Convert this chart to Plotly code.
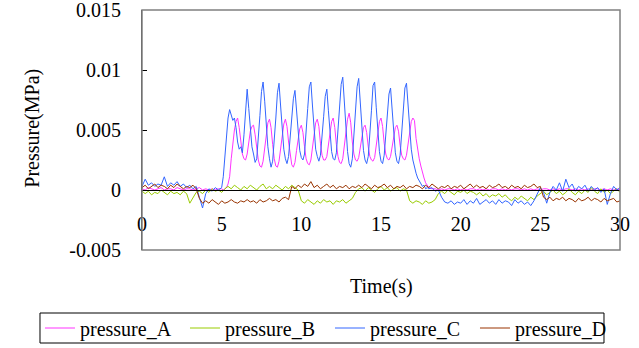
import numpy as np
import plotly.graph_objects as go

# ---------------- data (pressure values in kPa, converted to MPa below) ----------------
# sample times for A and C (coarse before/after the pulsation, fine during it)
t_ac = np.round(np.concatenate([np.linspace(0.0, 4.8, 25),
                                np.linspace(5.0, 17.9, 130),
                                np.linspace(18.0, 30.0, 61)]), 2)
# sample times for B and D
t_bd = np.round(np.linspace(0.0, 30.0, 151), 2)

pressure_A_kpa = [
    # 0.0 - 4.8 (step 0.2)
    0.1, 0.0, 0.2, 0.1, 0.0, 0.1, 0.2, 0.0, 0.1, 0.1,
    0.0, 0.2, 0.1, 0.0, 0.1, 0.1, 0.0, 0.1, 0.2, 0.0,
    0.1, 0.0, 0.1, 0.0, 0.1,
    # 5.0 - 17.9 (step 0.1)
    0.1, 0.0, 0.1, 0.2, 0.5, 1.1, 2.6, 4.0, 5.0, 5.7,
    6.0, 5.2, 3.8, 3.0, 2.6, 2.5, 3.0, 4.0, 4.9, 5.3,
    5.4, 4.6, 3.4, 2.5, 2.0, 1.9, 2.4, 3.6, 4.8, 5.6,
    5.9, 5.2, 3.8, 2.6, 2.0, 1.9, 2.4, 3.5, 4.7, 5.5,
    5.9, 5.3, 4.0, 2.8, 2.1, 1.9, 2.3, 3.3, 4.4, 5.1,
    5.4, 4.8, 3.6, 2.6, 2.2, 2.1, 2.5, 3.6, 4.8, 5.6,
    5.9, 5.3, 3.9, 2.9, 2.5, 2.5, 2.8, 3.7, 4.9, 5.7,
    6.0, 5.2, 3.8, 2.8, 2.3, 2.2, 2.6, 3.8, 5.0, 5.9,
    6.4, 5.6, 4.0, 3.0, 2.5, 2.4, 2.7, 3.6, 4.6, 5.2,
    5.4, 4.8, 3.6, 2.8, 2.5, 2.4, 2.7, 3.7, 4.9, 5.7,
    6.0, 5.3, 3.9, 3.0, 2.6, 2.5, 2.8, 3.6, 4.6, 5.2,
    5.4, 4.9, 3.7, 2.9, 2.6, 2.5, 2.9, 3.9, 5.0, 5.7,
    6.0, 5.8, 4.3, 3.2, 2.6, 2.0, 1.4, 1.0, 0.6, 0.4,
    # 18.0 - 30.0 (step 0.2)
    0.2, 0.1, 0.1, 0.0, 0.1, 0.0, 0.1, 0.1, 0.0, 0.1,
    0.0, 0.1, 0.0, 0.1, 0.1, 0.0, 0.1, 0.0, 0.1, 0.0,
    0.1, 0.1, 0.0, 0.1, 0.0, 0.1, 0.0, 0.1, 0.1, 0.0,
    0.1, 0.0, 0.1, 0.0, 0.1, 0.0, 0.1, 0.1, 0.0, 0.1,
    0.0, 0.1, 0.0, 0.1, 0.1, 0.0, 0.1, 0.0, 0.1, 0.0,
    0.1, 0.0, 0.1, 0.1, 0.0, 0.1, 0.0, 0.1, 0.0, 0.1,
    0.0,
]

pressure_C_kpa = [
    # 0.0 - 4.8 (step 0.2)
    0.3, 0.9, 0.4, 0.6, 0.3, 0.5, 0.4, 1.1, 0.3, 0.6,
    0.4, 0.7, 0.3, 0.5, 0.2, 0.4, 0.1, 0.3, -0.6, -1.5,
    -0.3, 0.1, -0.1, 0.2, 0.0,
    # 5.0 - 17.9 (step 0.1)
    0.2, 1.1, 3.0, 4.8, 6.0, 6.7, 6.3, 5.8, 6.0, 5.2,
    4.0, 3.4, 3.6, 3.1, 4.6, 7.0, 8.4, 6.8, 5.0, 3.6,
    3.0, 2.3, 2.6, 4.2, 6.2, 8.2, 9.0, 7.4, 5.2, 3.6,
    2.6, 1.9, 2.4, 4.0, 6.0, 8.1, 8.9, 7.0, 4.8, 3.4,
    2.6, 2.2, 2.8, 4.4, 6.2, 7.6, 8.3, 6.6, 4.6, 3.3,
    2.7, 2.5, 3.0, 4.6, 6.8, 8.6, 9.0, 7.0, 4.8, 3.4,
    2.8, 2.4, 2.9, 4.3, 6.1, 7.8, 8.4, 6.6, 4.6, 3.2,
    2.6, 2.5, 3.1, 4.8, 6.9, 8.8, 9.4, 7.4, 5.0, 3.2,
    2.2, 1.9, 2.6, 4.4, 6.6, 8.6, 9.3, 7.2, 4.9, 3.3,
    2.5, 2.2, 2.8, 4.5, 6.6, 8.7, 9.0, 6.9, 4.7, 3.2,
    2.4, 2.2, 2.9, 4.4, 6.3, 8.0, 8.5, 6.6, 4.6, 3.1,
    2.4, 2.2, 2.9, 4.6, 6.7, 8.5, 8.9, 7.2, 5.0, 3.4,
    2.5, 1.8, 1.4, 1.0, 0.8, 0.5, 0.3, 0.4, 0.1, 0.2,
    # 18.0 - 30.0 (step 0.2)
    0.1, 0.2, -0.1, 0.0, -0.6, -1.0, -1.1, -0.9, -1.2, -1.0,
    -1.1, -0.8, -1.2, -0.9, -1.1, -0.7, -1.2, -1.0, -0.8, -1.1,
    -0.9, -1.2, -0.8, -1.1, -0.9, -1.0, -1.3, -0.8, -1.1, -0.9,
    -1.2, -1.0, -1.3, -0.9, -0.4, 0.2, -0.2, -1.1, -0.2, 0.3,
    0.0, 0.6, -0.1, 0.9, 0.2, 0.5, -0.1, 0.3, 0.1, 0.4,
    -0.1, 0.3, 0.0, 0.2, -0.2, 0.1, -1.2, -0.3, 0.3, 0.0,
    0.2,
]

pressure_B_kpa = [
    -0.1, -0.3, -0.1, -0.4, -0.2, -0.3, 0.0, -0.2, -0.4, -0.1,
    -0.3, -0.2, -0.4, -0.1, -0.3, -1.1, -0.6, -0.2, -0.1, -0.3,
    0.0, -0.2, 0.1, -0.1, 0.0, -0.2, 0.1, 0.3, 0.1, 0.4,
    0.2, 0.0, 0.3, 0.1, 0.4, 0.2, 0.0, 0.3, 0.5, 0.1,
    0.3, 0.1, 0.4, 0.2, 0.0, 0.3, 0.1, 0.4, 0.2, 0.0,
    -0.9, -1.1, -0.8, -1.0, -1.2, -0.9, -1.1, -0.8, -1.0, -0.9,
    -1.2, -0.9, -1.0, -0.8, -1.1, -0.9, -0.7, -0.2, 0.1, 0.2,
    -0.1, 0.2, 0.0, -0.2, 0.1, 0.3, 0.0, 0.2, -0.1, 0.1,
    0.2, -0.1, 0.1, 0.0, -0.9, -1.1, -0.9, -1.0, -1.2, -0.9,
    -1.1, -1.0, -0.8, -0.3, -0.1, -0.3, 0.0, -0.2, -0.4, -0.1,
    -0.2, 0.0, -0.3, -0.1, -0.2, -0.4, -0.2, -0.5, -0.3, -0.6,
    -0.4, -0.5, -0.3, -0.6, -0.4, -0.7, -0.9, -0.6, -0.8, -0.5,
    -0.7, -0.9, -0.6, -0.8, -0.5, -0.3, -0.1, -0.4, -0.2, 0.0,
    -0.3, -0.1, -0.4, -0.2, 0.1, -0.2, -0.4, -0.1, -0.3, 0.0,
    -0.2, 0.2, -0.1, -0.3, 0.1, -0.2, 0.0, -0.3, -0.1, 0.1,
    -0.2,
]

pressure_D_kpa = [
    0.2, 0.4, 0.1, 0.3, 0.5, 0.2, 0.4, 0.3, 0.1, 0.4,
    0.2, 0.5, 0.3, 0.1, 0.3, 0.2, 0.4, 0.1, -0.7, -1.1,
    -0.9, -1.1, -0.8, -1.0, -1.2, -0.9, -1.1, -1.0, -0.8, -1.0,
    -1.1, -0.9, -1.0, -0.8, -1.0, -0.9, -1.1, -0.8, -1.0, -0.9,
    -0.7, -0.9, -0.8, -1.0, -0.7, -0.6, -0.8, 0.3, 0.1, 0.4,
    0.2, 0.5, 0.3, 0.7, 0.2, 0.4, 0.1, 0.3, 0.5, 0.2,
    0.4, 0.1, 0.3, 0.2, 0.4, 0.1, 0.3, 0.2, 0.4, 0.2,
    0.5, 0.3, 0.1, 0.4, 0.2, 0.3, 0.5, 0.2, 0.4, 0.1,
    0.3, 0.2, 0.4, 0.1, 0.3, 0.2, 0.4, 0.3, 0.1, 0.4,
    0.2, 0.5, 0.3, 0.1, 0.3, 0.2, 0.4, 0.1, 0.3, 0.2,
    0.4, 0.1, 0.3, 0.5, 0.2, 0.4, 0.2, 0.3, 0.1, 0.4,
    0.2, 0.3, 0.5, 0.2, 0.3, 0.1, 0.4, 0.2, 0.3, 0.1,
    0.4, 0.2, 0.3, 0.5, 0.2, 0.3, -0.6, -0.8, -0.6, -0.9,
    -0.7, -0.8, -0.6, -0.9, -0.7, -0.8, -1.0, -0.7, -0.9, -0.8,
    -0.6, -0.9, -0.7, -0.8, -1.0, -0.7, -0.9, -0.8, -0.7, -1.0,
    -0.9,
]

series_names = ["pressure_A", "pressure_B", "pressure_C", "pressure_D"]
series_colors = ["#FF33FF", "#99CC00", "#3366FF", "#993300"]

y_tickvals = [-0.005, 0, 0.005, 0.01, 0.015]
y_ticktext = ["-0.005", "0", "0.005", "0.01", "0.015"]
x_tickvals = [0, 5, 10, 15, 20, 25, 30]

# ---------------- figure ----------------
KPA_TO_MPA = 1.0 / 1000.0
series = [
    (t_ac, pressure_A_kpa),
    (t_bd, pressure_B_kpa),
    (t_ac, pressure_C_kpa),
    (t_bd, pressure_D_kpa),
]

FONT = "Liberation Serif, Times New Roman, serif"
fig = go.Figure()
for (tt, vals), name, col in zip(series, series_names, series_colors):
    fig.add_trace(go.Scatter(
        x=tt, y=np.array(vals) * KPA_TO_MPA, mode="lines", name=name,
        line=dict(color=col, width=1),
    ))

fig.update_layout(
    width=639, height=348,
    margin=dict(l=142, r=19, t=10, b=98, autoexpand=False),
    paper_bgcolor="white", plot_bgcolor="white",
    font=dict(family=FONT, size=20, color="black"),
    showlegend=True,
    legend=dict(
        orientation="h", x=-0.2134, xanchor="left", y=-0.325, yanchor="middle",
        borderwidth=0, font=dict(family=FONT, size=20),
        itemwidth=30, bgcolor="rgba(0,0,0,0)", entrywidth=100, entrywidthmode="pixels",
    ),
    xaxis=dict(
        range=[0, 30], anchor="free", position=0.25,
        showline=True, linecolor="black", linewidth=1,
        showgrid=False, zeroline=False,
        tickvals=x_tickvals, ticks="", ticklabelstandoff=16,
        ticklabeloverflow="allow",
        tickfont=dict(family=FONT, size=20),
    ),
    yaxis=dict(
        range=[-0.005, 0.015],
        showline=True, linecolor="#404040", linewidth=1,
        showgrid=False, zeroline=False,
        tickvals=y_tickvals, ticktext=y_ticktext,
        ticks="inside", ticklen=5, tickcolor="black",
        ticklabelstandoff=16, ticklabeloverflow="allow",
        tickfont=dict(family=FONT, size=20),
    ),
    shapes=[
        dict(type="rect", xref="paper", yref="paper", x0=0, y0=0, x1=1, y1=1,
             line=dict(color="#808080", width=1.5), layer="above"),
        # legend frame
        dict(type="rect", xref="paper", yref="paper",
             x0=-0.2134, x1=0.9665, y0=-0.3875, y1=-0.2625,
             line=dict(color="black", width=1), layer="below"),
    ],
    annotations=[
        dict(text="Time(s)", xref="paper", yref="paper", x=0.5, y=-0.154,
             xanchor="center", yanchor="middle", showarrow=False,
             font=dict(family=FONT, size=20)),
        dict(text="Pressure(MPa)", xref="paper", yref="paper", x=-0.231, y=0.508,
             xanchor="center", yanchor="middle", showarrow=False, textangle=-90,
             font=dict(family=FONT, size=20)),
    ],
)

fig.write_html("out.html", config={"displayModeBar": False})
